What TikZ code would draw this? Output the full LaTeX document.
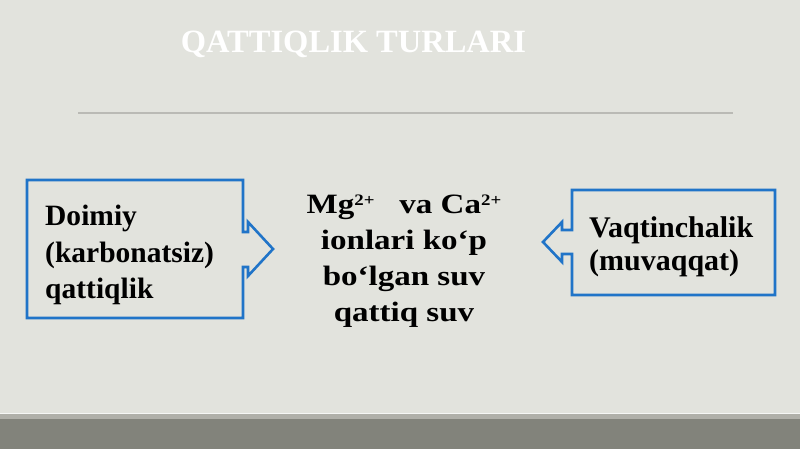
\documentclass[tikz,border=0pt]{standalone}
\usepackage{fontspec}
\usepackage{xcolor}
\setmainfont{Liberation Serif}
\newfontfamily\widefont[FakeStretch=1.18]{Liberation Serif}
\newcommand\ionsup[1]{\raisebox{8pt}{\fontsize{16}{16}\selectfont #1}}
\definecolor{slidebg}{RGB}{226,227,221}
\definecolor{boxblue}{RGB}{32,116,200}
\definecolor{ruleclr}{RGB}{186,186,181}
\definecolor{bandlight}{RGB}{176,176,169}
\definecolor{banddark}{RGB}{130,131,123}

\begin{document}
\begin{tikzpicture}[x=1pt,y=-1pt,
    callout box/.style={draw=boxblue,line width=2.6pt,line join=miter},
    box text/.style={inner sep=0pt,font=\fontsize{29.5}{36.5}\selectfont\bfseries},
    title text/.style={inner sep=0pt,text=white,font=\fontsize{32.5}{36}\selectfont\bfseries}]
        % background and bottom band
        \fill[slidebg] (0,0) rectangle (800,449);
        \useasboundingbox (0,0) rectangle (800,449);
        \fill[bandlight] (0,414) rectangle (800,419);
        \fill[banddark] (0,419) rectangle (800,449);
        \draw[white!70!slidebg,line width=0.8pt] (0,413.6) -- (800,413.6);

        % title and rule
        \node[title text,anchor=base] (title) at (353.5,53) {QATTIQLIK TURLARI};
        \draw[ruleclr,line width=1.6pt] (78,113) -- (733,113);

        % text
        \node[box text,align=left,anchor=north west] (doimiy) at (45,205)
          {Doimiy\\(karbonatsiz)\\qattiqlik};
        \node[box text,align=center,anchor=north,
          font=\fontsize{28}{36}\widefont\bfseries] (ionlar) at (404,195)
          {Mg\ionsup{2+}\ \ \ va Ca\ionsup{2+}\\ionlari ko‘p\\bo‘lgan suv\\qattiq suv};
        \node[box text,align=left,anchor=north west,
          font=\fontsize{30}{33}\selectfont\bfseries] (vaqt) at (589,216)
          {Vaqtinchalik\\(muvaqqat)};

        % callout frames
        \draw[callout box] (27,180) -- (243,180) -- (243,232) -- (248,232) -- (248,222)
          -- (273,249) -- (248,276) -- (248,267) -- (243,267) -- (243,318) -- (27,318) -- cycle;
        \draw[callout box] (775,190) -- (572,190) -- (572,230) -- (562,230) -- (562,222)
          -- (543,242) -- (562,262) -- (562,254) -- (572,254) -- (572,295) -- (775,295) -- cycle;
\end{tikzpicture}
\end{document}
